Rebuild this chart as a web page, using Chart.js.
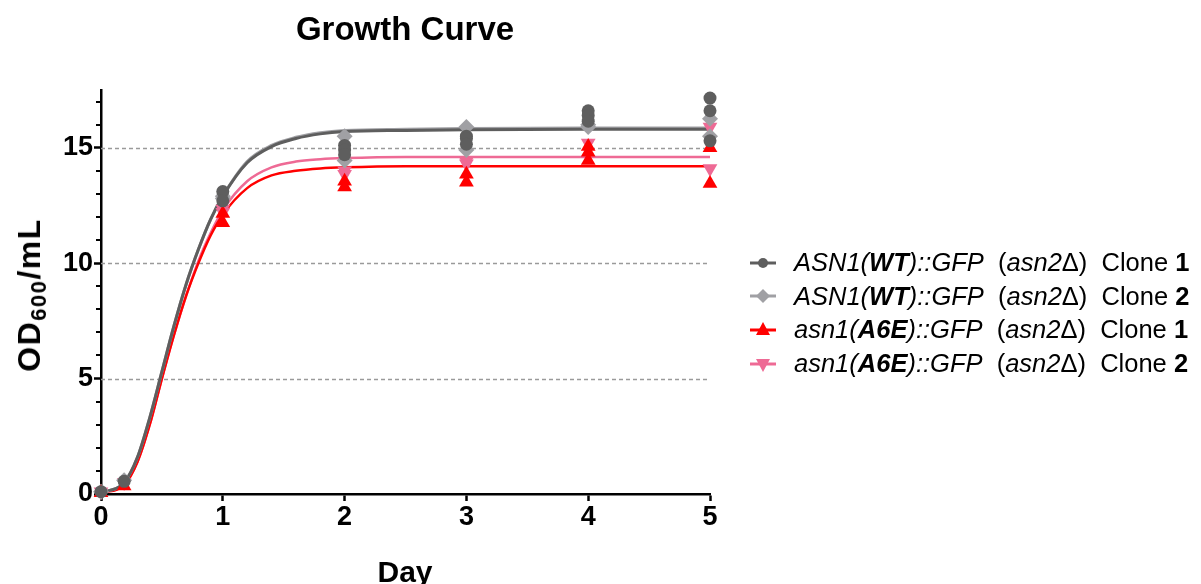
<!DOCTYPE html>
<html>
<head>
<meta charset="utf-8">
<script src="https://cdn.jsdelivr.net/npm/chart.js@4.4.0/dist/chart.umd.min.js"></script>
<style>
  html, body { margin: 0; padding: 0; background: #fff; }
  #wrap { position: relative; width: 1201px; height: 584px; overflow: hidden; font-family: Arial, "Liberation Sans", sans-serif; }
  #chart { position: absolute; left: 0; top: 0; }
  .title { position: absolute; left: 405px; top: 12px; transform: translateX(-50%); font-weight: bold; font-size: 33px; line-height: 33px; white-space: nowrap; }
  .xtitle { position: absolute; left: 405px; top: 557px; transform: translateX(-50%); font-weight: bold; font-size: 30px; line-height: 30px; }
  .ytitle { position: absolute; left: 29px; top: 295px; transform: translate(-50%, -50%) rotate(-90deg); font-weight: bold; font-size: 32px; line-height: 32px; letter-spacing: 1.5px; white-space: nowrap; }
  .ytitle sub { font-size: 22px; vertical-align: -6px; line-height: 0; }
  #legend { position: absolute; left: 748px; top: 246px; }
  .row { display: flex; align-items: center; height: 33.6px; font-size: 25.5px; white-space: pre; }
  .row svg { margin-right: 16px; }
</style>
</head>
<body>
<div id="wrap">
  <canvas id="chart" width="1201" height="584"></canvas>
  <div class="title">Growth Curve</div>
  <div class="xtitle">Day</div>
  <div class="ytitle">OD<sub>600</sub>/mL</div>
  <div id="legend"></div>
</div>
<script>
// sampling days and replicate readings (OD600/mL) per series
const days = [0, 0.19, 1, 2, 3, 4, 5];
const wt1Values = [[0.1], [0.55], [13.1, 12.7], [15.1, 14.9, 14.7], [15.5, 15.4, 15.15], [16.6, 16.4, 16.15], [17.15, 16.6, 15.3]];
const wt2Values = [[0.1], [0.6], [12.9, 12.8], [15.5, 14.45], [15.9, 14.9], [16.0, 15.9], [16.25, 15.5]];
const a6e1Values = [[0.05], [0.35], [12.15, 11.75], [13.55, 13.3], [13.85, 13.5], [15.05, 14.8, 14.45], [15.0, 13.45]];
const a6e2Values = [[0.1], [0.5], [12.35, 12.2], [14.0, 13.85], [14.4, 14.3], [15.2], [15.9, 14.1]];

// fitted curves
const fitDays = [0, 0.19, 0.3, 0.4, 0.5, 0.6, 0.7, 0.8, 0.9, 1, 1.2, 1.4, 1.6, 1.8, 2, 2.5, 3, 4, 5];
const wt1Fit = [0.05, 0.5, 1.6, 3.3, 5.3, 7.3, 9.1, 10.6, 11.9, 12.9, 14.35, 15.05, 15.4, 15.6, 15.7, 15.75, 15.78, 15.8, 15.8];
const wt2Fit = [0.05, 0.5, 1.6, 3.3, 5.3, 7.3, 9.1, 10.6, 11.9, 12.9, 14.4, 15.1, 15.45, 15.65, 15.75, 15.8, 15.83, 15.85, 15.85];
const a6e1Fit = [0.05, 0.4, 1.4, 3.0, 5.0, 6.9, 8.6, 10.0, 11.2, 12.1, 13.25, 13.8, 14.0, 14.1, 14.15, 14.2, 14.2, 14.2, 14.2];
const a6e2Fit = [0.05, 0.4, 1.4, 3.0, 5.0, 6.9, 8.6, 10.1, 11.3, 12.3, 13.55, 14.15, 14.4, 14.5, 14.55, 14.6, 14.6, 14.6, 14.6];

const seriesNames = [
  '<i>ASN1(<b>WT</b>)::GFP</i>  (<i>asn2</i>Δ)  Clone <b>1</b>',
  '<i>ASN1(<b>WT</b>)::GFP</i>  (<i>asn2</i>Δ)  Clone <b>2</b>',
  '<i>asn1(<b>A6E</b>)::GFP</i>  (<i>asn2</i>Δ)  Clone <b>1</b>',
  '<i>asn1(<b>A6E</b>)::GFP</i>  (<i>asn2</i>Δ)  Clone <b>2</b>'
];
const colors = ['#5e5e5e', '#a0a0a4', '#ff0000', '#ee6a95'];

function toPoints(vals){
  const pts = [];
  vals.forEach((arr, i) => arr.forEach(v => pts.push({x: days[i], y: v})));
  return pts;
}
function toCurve(vals){ return fitDays.map((d, i) => ({x: d, y: vals[i]})); }

const marks = [
  {vals: wt1Values, fit: wt1Fit, style: 'circle', r: 6.5, rot: 0, lw: 3},
  {vals: wt2Values, fit: wt2Fit, style: 'rectRot', r: 8, rot: 0, lw: 3},
  {vals: a6e1Values, fit: a6e1Fit, style: 'triangle', r: 8.5, rot: 0, lw: 2.5},
  {vals: a6e2Values, fit: a6e2Fit, style: 'triangle', r: 8.5, rot: 180, lw: 2.5}
];

const datasets = [];
marks.forEach((m, i) => {
  datasets.push({
    type: 'line', data: toCurve(m.fit), borderColor: colors[i], borderWidth: m.lw,
    pointRadius: 0, cubicInterpolationMode: 'monotone', fill: false, clip: false, order: [10, 11, 12, 13][i]
  });
  datasets.push({
    type: 'scatter', data: toPoints(m.vals), backgroundColor: colors[i], borderColor: colors[i], borderWidth: 0,
    pointStyle: m.style, pointRadius: m.r, rotation: m.rot, clip: false, order: [1, 3, 2, 4][i]
  });
});

// dashed gridlines + minor ticks on the y axis
const extras = {
  id: 'extras',
  beforeDatasetsDraw(chart){
    const {ctx, chartArea, scales} = chart;
    ctx.save();
    ctx.strokeStyle = '#9a9a9a';
    ctx.lineWidth = 1.5;
    ctx.setLineDash([4, 3]);
    [5, 10, 15].forEach(v => {
      const y = Math.round(scales.y.getPixelForValue(v)) + 0.5;
      ctx.beginPath(); ctx.moveTo(chartArea.left, y); ctx.lineTo(chartArea.right, y); ctx.stroke();
    });
    ctx.setLineDash([]);
    ctx.strokeStyle = '#000';
    ctx.lineWidth = 2;
    for(let v = 1; v <= 17; v++){
      if(v % 5 === 0) continue;
      const y = Math.round(scales.y.getPixelForValue(v));
      ctx.beginPath(); ctx.moveTo(chartArea.left - 5, y); ctx.lineTo(chartArea.left, y); ctx.stroke();
    }
    ctx.restore();
  }
};

const tickFont = { family: 'Arial', size: 27, weight: 'bold' };

new Chart(document.getElementById('chart'), {
  data: { datasets },
  options: {
    responsive: false,
    animation: false,
    devicePixelRatio: 1,
    layout: { padding: { left: 0, top: 90, right: 1201 - 710, bottom: 0 } },
    plugins: { legend: { display: false }, tooltip: { enabled: false } },
    scales: {
      x: {
        type: 'linear', min: 0, max: 5,
        afterFit(s){ s.height = 90; },
        ticks: { stepSize: 1, color: '#000', padding: 0, font: tickFont },
        grid: { drawOnChartArea: false, tickLength: 7, tickWidth: 2.5, tickColor: '#000' },
        border: { color: '#000', width: 2.5 }
      },
      y: {
        min: 0, max: 17.5,
        afterFit(s){ s.width = 101; },
        afterBuildTicks(s){ s.ticks = [0, 5, 10, 15].map(v => ({value: v})); },
        ticks: { color: '#000', padding: 1, font: tickFont },
        grid: { drawOnChartArea: false, tickLength: 7, tickWidth: 2.5, tickColor: '#000' },
        border: { color: '#000', width: 2.5 }
      }
    }
  },
  plugins: [extras]
});

// legend with mixed italic/bold names
const legend = document.getElementById('legend');
marks.forEach((m, i) => {
  let shape;
  if(m.style === 'circle') shape = `<circle cx="15" cy="10" r="5" fill="${colors[i]}"/>`;
  else if(m.style === 'rectRot') shape = `<polygon points="15,3 22,10 15,17 8,10" fill="${colors[i]}"/>`;
  else if(m.rot === 0) shape = `<polygon points="15,2 22,15 8,15" fill="${colors[i]}"/>`;
  else shape = `<polygon points="15,18 22,5 8,5" fill="${colors[i]}"/>`;
  const row = document.createElement('div');
  row.className = 'row';
  row.innerHTML = `<svg width="30" height="20"><line x1="2" y1="10" x2="28" y2="10" stroke="${colors[i]}" stroke-width="3"/>${shape}</svg><span>${seriesNames[i]}</span>`;
  legend.appendChild(row);
});
</script>
</body>
</html>
